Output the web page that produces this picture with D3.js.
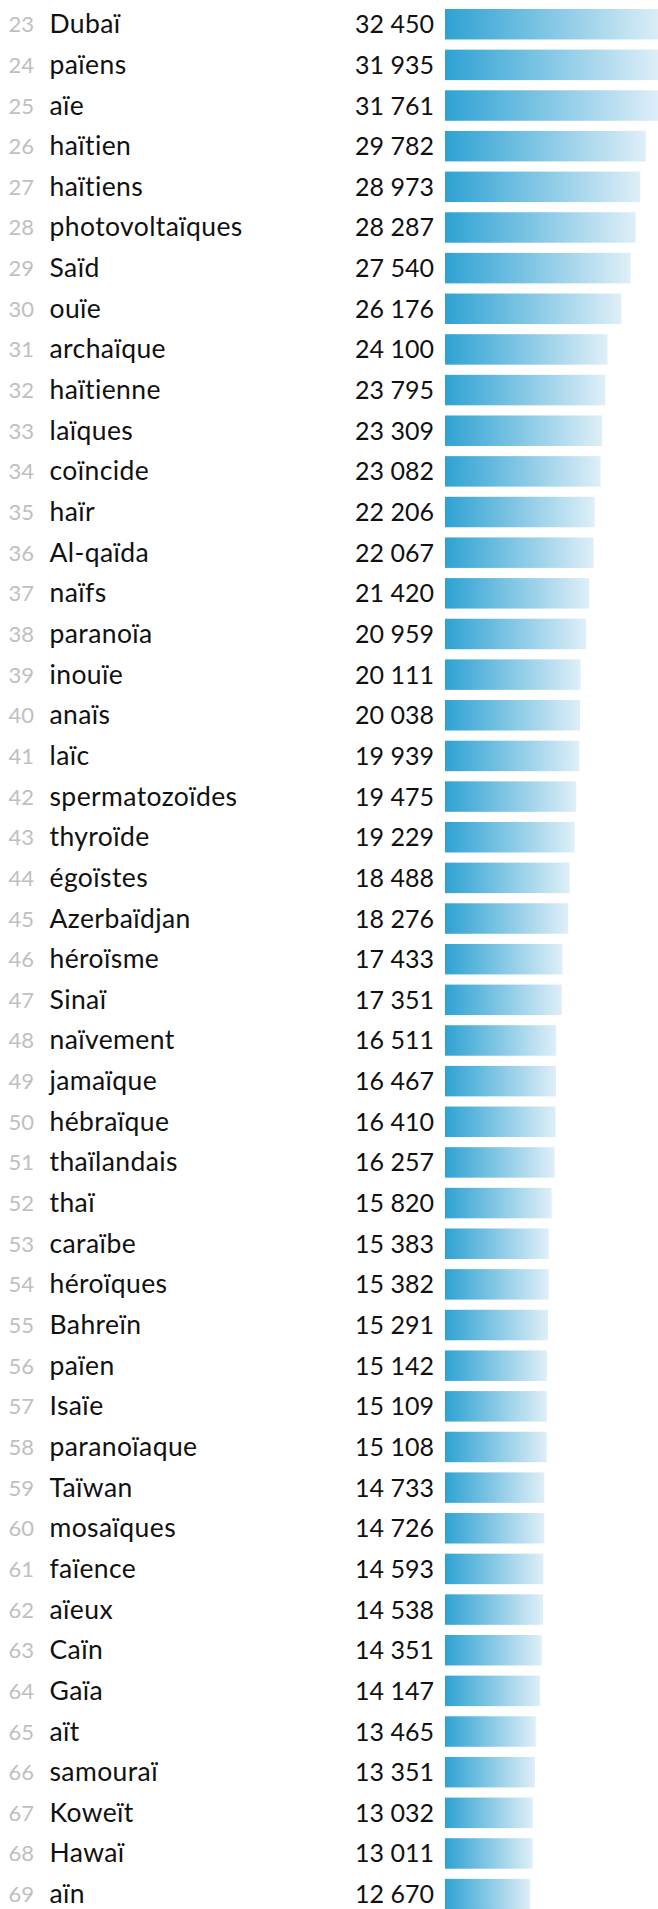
<!DOCTYPE html>
<html><head><meta charset="utf-8">
<script src="https://cdn.jsdelivr.net/npm/d3@7"></script>
<style>html,body{margin:0;padding:0;background:#fff;overflow:hidden}</style>
</head><body><div id="chart"></div>
<script>
const ranks = [23,24,25,26,27,28,29,30,31,32,33,34,35,36,37,38,39,40,41,42,43,44,45,46,47,48,49,50,51,52,53,54,55,56,57,58,59,60,61,62,63,64,65,66,67,68,69];
const words = ["Dubaï","païens","aïe","haïtien","haïtiens","photovoltaïques","Saïd","ouïe","archaïque","haïtienne","laïques","coïncide","haïr","Al-qaïda","naïfs","paranoïa","inouïe","anaïs","laïc","spermatozoïdes","thyroïde","égoïstes","Azerbaïdjan","héroïsme","Sinaï","naïvement","jamaïque","hébraïque","thaïlandais","thaï","caraïbe","héroïques","Bahreïn","païen","Isaïe","paranoïaque","Taïwan","mosaïques","faïence","aïeux","Caïn","Gaïa","aït","samouraï","Koweït","Hawaï","aïn"];
const counts = [32450,31935,31761,29782,28973,28287,27540,26176,24100,23795,23309,23082,22206,22067,21420,20959,20111,20038,19939,19475,19229,18488,18276,17433,17351,16511,16467,16410,16257,15820,15383,15382,15291,15142,15109,15108,14733,14726,14593,14538,14351,14147,13465,13351,13032,13011,12670];

const W = 658, H = 1909;
const rows = ranks.map((r,i)=>({rank:r, word:words[i], value:counts[i]}));

const svg = d3.select("#chart").append("svg").attr("width",W).attr("height",H)
  .style("font-family","Lato, 'Open Sans', sans-serif");

const defs = svg.append("defs");
const grad = defs.append("linearGradient").attr("id","barGrad").attr("x1","0%").attr("x2","100%").attr("y1","0%").attr("y2","0%");
grad.append("stop").attr("offset","0%").attr("stop-color","#2ea2d3");
grad.append("stop").attr("offset","100%").attr("stop-color","#dfeff8");

const x = d3.scaleLinear().domain([0, 32450]).range([445, 663.7]);
const y = d3.scaleBand().domain(ranks).range([3.9, 3.9 + 47*40.65]).paddingInner(0.25).paddingOuter(0.125);

const fmt = d3.formatLocale({decimal:",", thousands:" ", grouping:[3], currency:["","€"]}).format(",d");

const g = svg.selectAll("g.row").data(rows).join("g").attr("class","row");

g.append("rect")
  .attr("x", x(0))
  .attr("y", d=>y(d.rank))
  .attr("width", d=>x(d.value)-x(0))
  .attr("height", y.bandwidth())
  .attr("fill","url(#barGrad)");

const cy = d=>y(d.rank)+y.bandwidth()/2;

g.append("text")
  .attr("x",34).attr("y",d=>cy(d)+8)
  .attr("text-anchor","end")
  .attr("font-size",22).attr("fill","#c0c0c0")
  .text(d=>d.rank);

g.append("text")
  .attr("x",49.5).attr("y",d=>cy(d)+9)
  .attr("font-size",26.5).attr("letter-spacing",0.4).attr("fill","#111")
  .text(d=>d.word);

g.append("text")
  .attr("x",434).attr("y",d=>cy(d)+9)
  .attr("text-anchor","end")
  .attr("font-size",25).attr("fill","#111")
  .text(d=>fmt(d.value));
</script></body></html>
